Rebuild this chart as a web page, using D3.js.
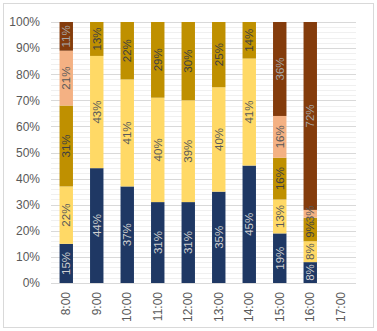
<!DOCTYPE html>
<html>
<head>
<meta charset="utf-8">
<script src="https://cdn.jsdelivr.net/npm/d3@7"></script>
<style>
  body { margin: 0; background: #fff; }
  svg { display: block; font-family: "Liberation Sans Narrow", "Liberation Sans", Arial, sans-serif; }
</style>
</head>
<body>
<div class="chart"></div>
<script>
const hours = ["8:00", "9:00", "10:00", "11:00", "12:00", "13:00", "14:00", "15:00", "16:00", "17:00"];
const seriesNames = ["s1", "s2", "s3", "s4", "s5"];
const s1 = [15, 44, 37, 31, 31, 35, 45, 19, 8, 0];
const s2 = [22, 43, 41, 40, 39, 40, 41, 13, 8, 0];
const s3 = [31, 13, 22, 29, 30, 25, 14, 16, 9, 0];
const s4 = [21, 0, 0, 0, 0, 0, 0, 16, 3, 0];
const s5 = [11, 0, 0, 0, 0, 0, 0, 36, 72, 0];
const yTicks = [0, 10, 20, 30, 40, 50, 60, 70, 80, 90, 100];

const colors = ["#1f3864", "#ffd966", "#bf9000", "#f4b183", "#843c0c"];
const labelColors = ["#d0d0d0", "#595959", "#404040", "#595959", "#a6a6a6"];

const width = 377, height = 331;
const margin = { left: 51, right: 21, top: 22, bottom: 48 };

const rows = hours.map((h, i) => ({
  hour: h, s1: s1[i], s2: s2[i], s3: s3[i], s4: s4[i], s5: s5[i]
}));
const stacked = d3.stack().keys(seriesNames)(rows);

const svg = d3.select(".chart").append("svg")
  .attr("width", width)
  .attr("height", height);

// outer frame
svg.append("rect")
  .attr("x", 3.5).attr("y", 3.5)
  .attr("width", 370).attr("height", 324)
  .attr("fill", "#fff")
  .attr("stroke", "#d9d9d9");

const xScale = d3.scaleBand()
  .domain(hours)
  .range([margin.left, width - margin.right])
  .paddingInner(0.56)
  .paddingOuter(0.28);

const yScale = d3.scaleLinear()
  .domain([0, 100])
  .range([height - margin.bottom, margin.top]);

// minor gridlines
svg.append("g")
  .selectAll("line")
  .data(d3.range(0, 101, 2).filter(v => v % 10 !== 0))
  .enter()
  .append("line")
  .attr("x1", margin.left).attr("x2", width - margin.right)
  .attr("y1", d => Math.round(yScale(d)) + 0.5)
  .attr("y2", d => Math.round(yScale(d)) + 0.5)
  .attr("stroke", "#f0f0f0");

// major gridlines
svg.append("g")
  .selectAll("line")
  .data(yTicks)
  .enter()
  .append("line")
  .attr("x1", margin.left).attr("x2", width - margin.right)
  .attr("y1", d => Math.round(yScale(d)) + 0.5)
  .attr("y2", d => Math.round(yScale(d)) + 0.5)
  .attr("stroke", "#d9d9d9");

// bars
const layers = svg.append("g")
  .selectAll("g")
  .data(stacked)
  .enter()
  .append("g")
  .attr("fill", (d, i) => colors[i]);

layers.selectAll("rect")
  .data(d => d.filter(p => p[1] > p[0]))
  .enter()
  .append("rect")
  .attr("x", d => xScale(d.data.hour))
  .attr("y", d => yScale(d[1]))
  .attr("width", xScale.bandwidth())
  .attr("height", d => yScale(d[0]) - yScale(d[1]));

// data labels
stacked.forEach((layer, i) => {
  svg.append("g")
    .selectAll("text")
    .data(layer.filter(p => p[1] > p[0]))
    .enter()
    .append("text")
    .attr("transform", d => {
      const cx = xScale(d.data.hour) + xScale.bandwidth() / 2;
      const cy = yScale((d[0] + d[1]) / 2);
      return "translate(" + cx + "," + cy + ") rotate(-90)";
    })
    .attr("text-anchor", "middle")
    .attr("dy", "0.35em")
    .attr("font-size", 11.5)
    .attr("fill", labelColors[i])
    .text(d => (d[1] - d[0]) + "%");
});

// y axis
const yAxis = d3.axisLeft(yScale)
  .tickValues(yTicks)
  .tickSize(0)
  .tickPadding(11)
  .tickFormat(d => d + "%");

svg.append("g")
  .attr("transform", "translate(" + margin.left + ",0)")
  .call(yAxis)
  .call(g => g.select(".domain").remove())
  .selectAll("text")
  .attr("font-size", 12)
  .attr("fill", "#595959");

// x axis
const xAxis = d3.axisBottom(xScale).tickSize(0);

svg.append("g")
  .attr("transform", "translate(0," + yScale(0) + ")")
  .call(xAxis)
  .call(g => g.select(".domain").remove())
  .selectAll("text")
  .attr("font-size", 12)
  .attr("fill", "#595959")
  .attr("text-anchor", "end")
  .attr("dy", null)
  .attr("y", 0)
  .attr("transform", "translate(0,9) rotate(-90)")
  .attr("dominant-baseline", "central");
</script>
</body>
</html>
